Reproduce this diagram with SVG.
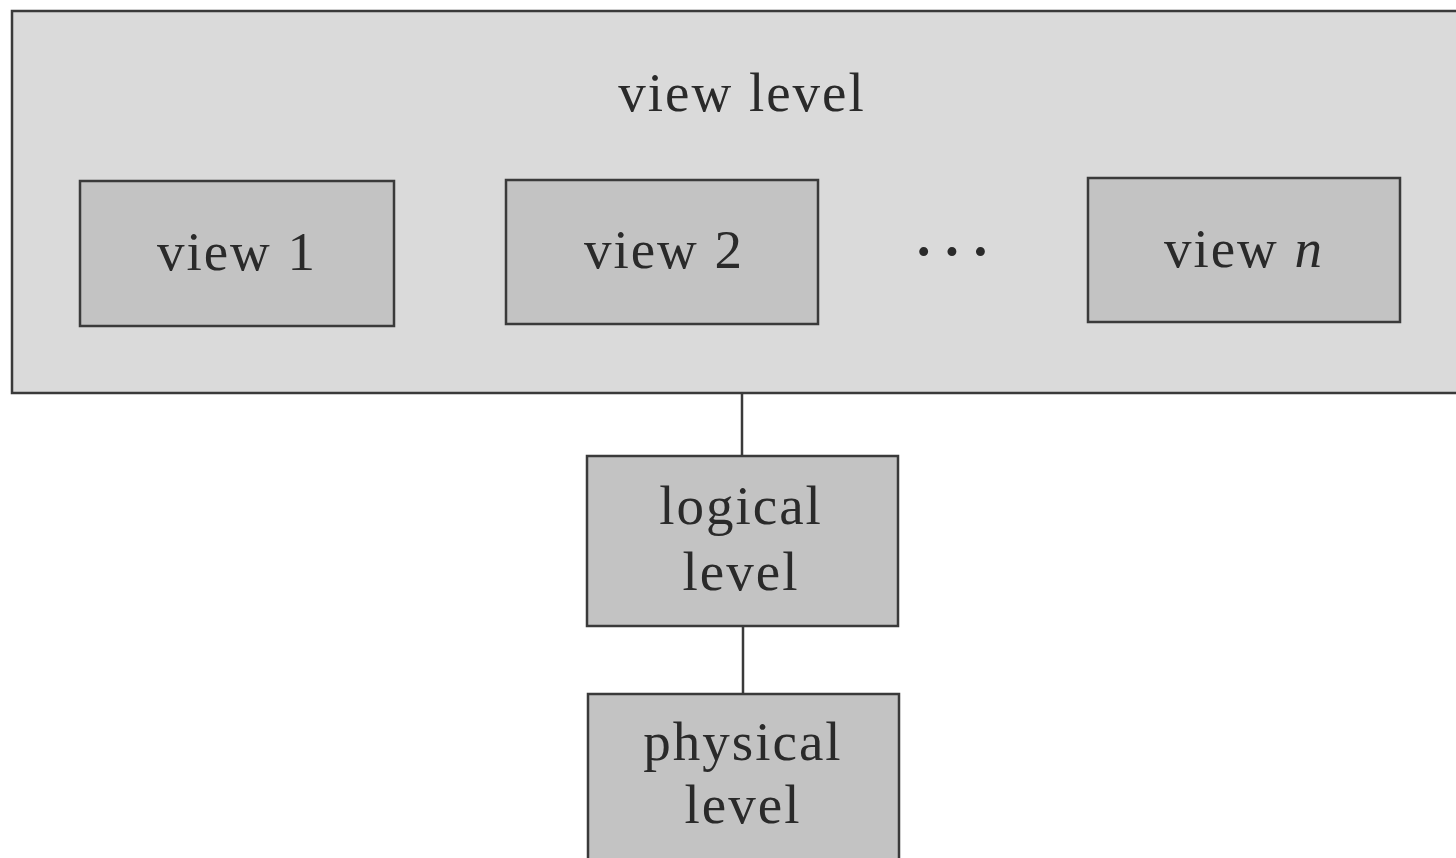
<svg xmlns="http://www.w3.org/2000/svg" width="1456" height="858" viewBox="0 0 1456 858">
<style>
.outer{fill:#dadada;stroke:#3a3a3a;stroke-width:2.5}
.box{fill:#c3c3c3;stroke:#3a3a3a;stroke-width:2.5}
.lbl{font-family:"Liberation Serif","Times New Roman",serif;font-size:55px;fill:#2a2a2a;text-anchor:middle;letter-spacing:2px}
.dots{font-family:"Liberation Serif","Times New Roman",serif;font-size:55px;font-weight:bold;fill:#2a2a2a;text-anchor:middle;letter-spacing:10px}
.conn{stroke:#3a3a3a;stroke-width:2.5;fill:none}
</style>
<rect x="0" y="0" width="1456" height="858" fill="#ffffff"/>
<g id="view-level">
<rect class="outer" x="12" y="11" width="1460" height="382"/>
<text class="lbl" x="742" y="111">view level</text>
</g>
<g id="view1">
<rect class="box" x="80" y="181" width="314" height="145"/>
<text class="lbl" x="237" y="270">view 1</text>
</g>
<g id="view2">
<rect class="box" x="506" y="180" width="312" height="144"/>
<text class="lbl" x="664" y="268">view 2</text>
</g>
<g id="dots">
<text class="dots" x="957" y="270">···</text>
</g>
<g id="viewn">
<rect class="box" x="1088" y="178" width="312" height="144"/>
<text class="lbl" x="1244" y="267">view <tspan font-style="italic">n</tspan></text>
</g>
<g id="connectors">
<line class="conn" x1="742" y1="393" x2="742" y2="456"/>
<line class="conn" x1="743" y1="626" x2="743" y2="694"/>
</g>
<g id="logical">
<rect class="box" x="587" y="456" width="311" height="170"/>
<text class="lbl" x="741" y="524">logical</text>
<text class="lbl" x="741" y="590">level</text>
</g>
<g id="physical">
<rect class="box" x="588" y="694" width="311" height="180"/>
<text class="lbl" x="743" y="760">physical</text>
<text class="lbl" x="743" y="823">level</text>
</g>
</svg>
